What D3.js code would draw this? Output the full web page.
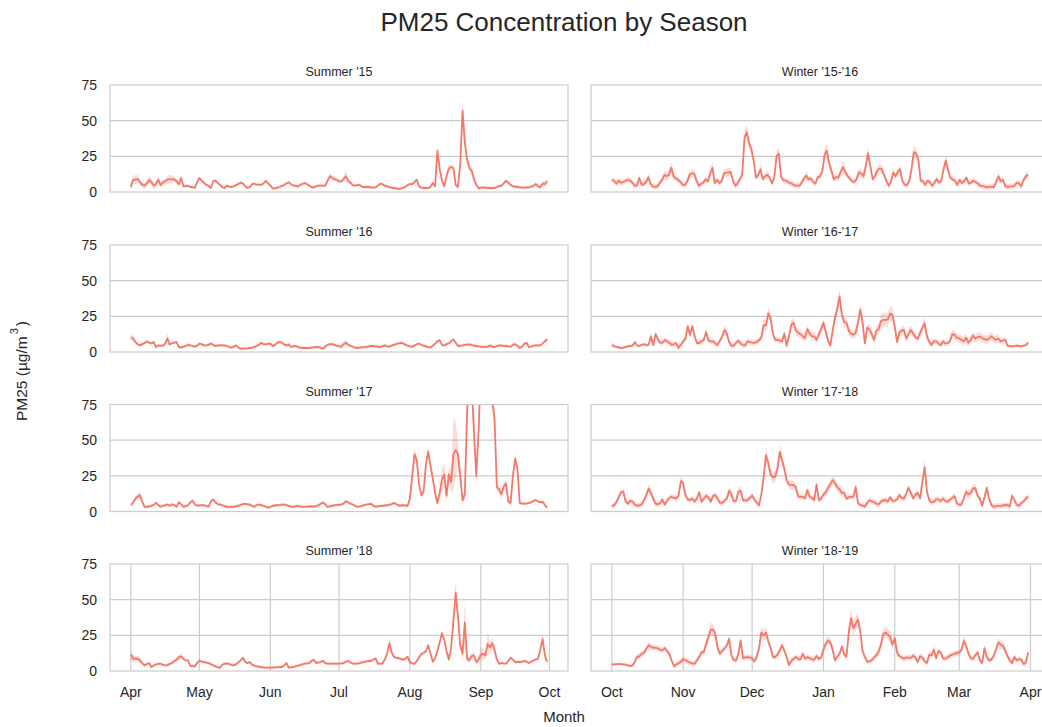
<!DOCTYPE html>
<html>
<head>
<meta charset="utf-8">
<script src="https://cdn.jsdelivr.net/npm/d3@7"></script>
<style>
body { margin: 0; background: #fff; }
text { font-family: "Liberation Sans", Arial, sans-serif; fill: #262626; }
</style>
</head>
<body>
<svg id="chart" width="1042" height="727"></svg>
<script>

// daily mean PM25, summer = Apr 1 .. Sep 30, winter = Oct 1 .. Mar 31
var summer15 = [3.5,8.6,8.6,9.1,7,5,4.5,6,8.5,7,
4.5,5.5,8.6,5,6.5,7.5,8.6,8.8,9,8.8,
7.5,5.5,9.8,4,4.2,4.4,3.5,3.5,2.8,7,
9.8,8,6.5,5,4.4,2.8,7.5,8,6.3,5,
3.5,2.8,4.4,3.8,3.5,4,4.8,5.6,6.5,6,
4,3,3.5,5.5,5.8,5.2,5.1,5.1,6,7.8,
6,4.4,2.6,2.5,3,3.5,4.2,4.9,6,6.8,
5.5,4.5,4.5,3.8,5,5.6,6.2,5.5,4.5,3.5,
3.2,4,4.4,4.4,4.4,4.4,8,11,10,9,
8.6,7.5,7.5,9,11,8,6.5,4.8,4.4,4.8,
5,3.8,3.5,3.5,3.5,3.3,3.1,3.2,4.5,5.8,
5.5,4.4,4,3.4,3,2.8,2.5,2.2,2.4,3,
3.5,4.8,5.5,5.6,7,8.6,4,3,2.8,2.8,
2.8,3.5,6.3,4,29,16,8,4,11,16.5,
17.5,17,5,3.5,20,57,35,22.7,16.8,15,
9,5,2.6,3,3.3,3,2.8,2.8,2.7,2.8,
3.5,4.2,4.4,6,7.9,6.5,5,4,3.8,3.5,
3.3,3,3,3.2,3.3,3.8,4.4,5.6,4,3.5,
5.8,5.5,7.5];

var summer16 = [10.4,9.5,7,5.5,4.6,5.5,6.2,7.4,6.5,6,
7,3.5,4.6,4.4,4.4,5.8,9.5,5.3,6.2,6.5,
7,3.5,3.2,3.8,4.2,5.1,4.6,4.2,3.8,4.5,
5.8,5.5,4.6,4.6,5,6,5,4.2,4.6,4.6,
4.6,4.6,4.2,3.5,3,3.8,4.6,3.2,2.3,2.3,
2.3,2.5,2.8,3,3.6,4.2,5,6.5,5.5,5.3,
5.8,5.8,4.2,5,6.5,7,6.5,5.3,4.6,5.3,
3.5,4,4.2,3.6,3,2.8,2.8,2.8,2.8,3,
3.2,3.4,3.5,3,2.3,3.8,5,5.5,5.5,5,
4.5,4,3.7,5.5,6.5,5.2,4.2,3.7,3,2.8,
3,3.3,3.4,3.6,4,4.2,4.2,4,3.8,3.5,
4,4.6,4,3.8,4.5,5,5.5,6,6.4,6,
5.2,4.4,4,3.8,4.5,5.5,5.8,5,4.4,4,
3.4,3.2,4.5,5.8,7.5,8.1,5,4.6,5.5,6,
7.5,8.8,6.5,4.2,4.4,4.6,5,5.2,5.3,5,
4.4,4.2,3.9,3.7,3.6,3.6,3.8,4.6,3.7,3.5,
4.2,4.6,4.5,4.3,4.2,3.9,3.7,5,5.5,4.4,
2.8,3.8,5.8,6.5,3.5,3.8,4.4,4.6,4.6,4.6,
6,7.5,8.8];

var summer17 = [4.4,6.3,9,10.5,11.4,7,3.3,3.3,3.5,4,
4.6,6.1,4.5,3.3,4,4.4,4.9,4,5,4.5,
3.3,6.5,5,3.3,3.8,4.4,6.5,7.5,4.9,4.2,
4.2,4.4,4.4,3.8,3.5,7,8.5,6.5,5.2,4.9,
4.4,3.8,3.3,3.3,3.3,3.3,3.8,4,4.6,5.2,
5.4,5,4.9,3.8,3.3,4.5,4.9,4.4,4,3.3,
2.6,3.2,4,4.2,4.4,4.5,4.8,4.9,4.4,4,
3.5,3.3,3.6,4,3.6,3.3,3.3,3.4,3.5,3.5,
3.4,3.8,4.4,5.4,6.3,5,3.3,3.6,4,4.4,
4.6,4.6,4.9,5.5,7.2,6.5,5.5,4.9,4,3.3,
3.6,4,4.4,4.8,5.2,5.4,4,3.4,3.6,3.9,
4,4.2,4.4,4.6,5.2,6,5.2,4.2,4.2,4.4,
4.2,4,9,25,40,36,19,11.4,14,33,
42,32,23,13,6,13,22,26,11,26,
20.8,40,43,40,25,8,12,70,95,90,
55,25,56,100,110,105,100,95,78,65,
17,15.5,12,17.5,19.6,7,6,25,37,30,
6,5.5,5.5,5.5,6,6.4,7.5,8,7,6.5,
6.8,4.5,2.6];

var summer18 = [11.6,8.6,8.6,8.6,7.4,5.5,4,4.8,5.6,2.8,
3.8,4.7,5,5.1,4.5,4,4,5,5.6,7,
7.9,9.5,10.2,8.5,7.4,7.4,3.5,3.4,3.3,5.5,
7.4,6.5,6.3,5.8,5.5,4.8,4,3.2,2.5,2.3,
4.5,5.1,5.3,4.8,4.3,4,4.6,6,7.5,9.3,
6.5,5.5,6.3,4.5,3.8,3.3,3,2.8,2.5,2.3,
2.3,2.3,2.3,2.5,2.6,2.7,2.8,3.7,5.6,2.4,
2.6,2.8,3.2,3.7,4.2,4.7,5.1,5.3,5.6,7,
7.9,5.6,5.8,6.5,7,5.5,5.1,5.1,5.1,5.1,
5.1,5.1,5.3,5.6,6.5,7,6,5.1,5.1,5.1,
5.5,6,6.3,6.8,7,7,8,8.8,5.1,5.1,
5.1,8,12,19.5,13,10,9.3,9,8.5,8,
8.5,10,6,5.3,5.1,7,9.5,12,12.6,14,
18,12.5,6.5,9,14,20,26.5,22,14,8,
16,35,55,38,18,12,34,8.6,7.5,10.5,
11,6.3,8,11.5,12,11,19,16.5,19.5,15,
8,5,5.6,5.3,5.1,7,9.3,8,6.3,6.3,
6.3,6.6,7,6.5,5.6,6.5,7.4,8,8.6,15,
22.5,10.9,6.3];

var winter1516 = [8.6,7.9,5.8,8,6.5,7,7.9,8.6,8,6.5,
4.4,4.6,9.8,5,5.5,7,10.3,5.5,4,3.5,
4,6.5,8.5,12,11,12.1,17,11,9.5,8.5,
7,5,5,7.5,12,13,13,8,4.4,5.6,
6.5,9,7.5,13,17,6.3,8.6,6.3,7.5,13,
13.5,13.8,14,7.5,4.4,6,9,12.5,38,42,
34,30,22,10,12,16,9,11,12,10,
6,10,25,27,10.5,8.3,8,7,6.2,5.5,
4.6,4.4,4.4,6.5,9.5,11.5,8.8,9.5,7,6,
10.3,11,14.5,26,29,20,15,9,10.5,10,
14,17.5,14,11.5,9.5,7.5,7,9,13.8,13,
11,18,27,18.5,9,11,15,16.5,16,12,
8,4.4,7,13.5,11,14,16,8,5,4.8,
7.5,16,28,27,22.7,8,7.5,5,8,7,
4.4,6.3,9.1,6.5,7.5,16,22,15,10,8.8,
8,5,8.5,6.3,7.5,10,6,6.5,8,7,
6,4.4,4.2,3.8,3.3,3.6,3.8,3.5,7,11,
7.5,8.6,4,3.6,3.8,4,4.4,6.5,6,4,
8.6,11,12];

var winter1617 = [5.1,4,3.5,3.2,2.8,3,3.5,4,4.2,4.4,
6.8,4.5,4.2,5,5.5,4.6,5.1,11,4.8,12.5,
9,6.5,6.5,8.3,7.5,6.5,5,5.5,6,3,
5,7.5,9.1,18,12,18,11,6.3,6.3,7.5,
8.6,14,8,7.5,7.5,6,5,8,11,15.5,
13,7,4.4,4.4,6.5,7.8,6,4.8,4.6,7.5,
7,6.6,6.4,7,8.3,10,19,18.5,27,24,
13,8.6,8.6,8,7.5,13,4.4,11,19,20.5,
15,13.5,12.5,11,9.8,16,13,11,11,8.6,
12.5,16,20.5,14,8,4.4,15,24,30,39,
26,21,20.5,15,13,12.1,13.3,20.3,29.7,21,
6,17,16,12.5,8.6,15,16,21.5,22.7,22.4,
23,27,26,18,7,13.5,15,15.5,9.5,12.5,
15.5,13,10.5,9.2,13.3,17,20,11,7,5,
7.5,7.5,6,4.8,7.5,5.8,6.3,7.5,12.5,12,
10,9.5,8.5,7.5,10,6.5,8.6,11.5,9.5,10.5,
10.8,9.8,9,8.5,9.5,11,9.5,8.6,9.5,7.5,
8,8.6,4.4,4.2,4,4.1,4.4,4.2,4,4.4,
4.8,6.5];

var winter1718 = [3.3,4.5,6.5,10,13.5,14,7,5.5,7.5,7,
4.8,4.2,4.2,5,8,11.5,16.1,13,9,5.5,
5,6,8.4,4.9,7.5,9.5,10.3,9.5,9.3,11,
21.3,20,11.4,8.5,8,9.1,7,9,13.5,6.8,
9.1,11,10,6.8,11,11.5,9,6,6,7.5,
9.1,14.5,12,7,7.5,14,14.5,8,7.8,7.9,
9.5,11.2,8.4,6.3,4.4,12,24,39.5,34,26,
24,24.5,30,41.8,36,30,22,19,18.5,18.5,
17,10.5,10.3,10.3,9.3,15,10.3,9.5,8,19,
8,9,12,13.5,16.5,19,22,20,17,15.5,
13,13,9,10,10.3,10.3,17,6,4.4,4.2,
3.5,6,7.9,7.2,6.6,5.5,4.9,7,7.9,7.9,
7.1,10,7.5,7.5,8.5,11.5,9.5,9,12.6,16.5,
13,9.1,12,13,9.1,21,31,13.8,8,6.5,
6.8,8.5,8.5,7.3,9.1,7.5,6.8,8.3,9.5,10.8,
5.5,4.9,4.9,9.1,13.8,12,13,16,16.5,11,
9,4,10,16.5,9.1,4.5,3.3,3.8,4,4,
4.2,4.6,4.5,3.5,11,8,4.8,4,6,7,
9.1,10.5];

var winter1819 = [4.7,4.7,4.8,5,4.8,4.6,4.4,4,3.5,3.8,
6.5,10,10.2,12,12.8,15.6,18,17,16.3,16.3,
15.8,15,14.5,16,14,12,7.5,3.3,4.5,5.5,
6.4,8.4,7.5,6.6,5.8,5.3,5,7.5,9.8,13.3,
13.3,19.1,24,29,29,26,16,12,14.4,15.5,
18,22.6,11,7.6,7.4,12,21.4,9,9.6,9.8,
9.5,8.8,6.8,10,16,27,25,27,21,16.5,
10,9.8,11.5,14.4,17.9,14.4,9.8,4.2,7,8.5,
9.8,8.5,8.2,12.1,8.6,9.8,9,8.1,7.8,10.5,
8.5,9.5,15,19,21.5,20,15,7.5,10,12.1,
17,11.5,10,27,37,30,33,36,28,14,
9.8,6.5,6.8,7.5,9.5,11,13.5,18.5,26,27,
25.5,24,18.5,23,13,10.5,9.5,8.6,9.5,9.4,
9.2,10.8,9.5,6.3,10.4,9.5,6.8,5.6,11.5,11,
15,9,14,13,8.8,8.6,9.5,10.8,11.5,12,
12.7,13,14.8,21,18,12.5,9,8.5,11,13,
7.5,5.5,16,10,7.4,8,10.5,15,20,18.6,
17.5,14.5,10.5,7.5,5.5,9.8,7.5,8.4,8,5,
6,13];

// half width of the confidence band, per day
var summer15Ci = [2,3,3,3,2,2,2,2,3,2, 2,2,3,2,2,2,3,3,3,2, 2,2,3,1,1,1,1,1,1,1,
1,1,1,1,1,1,1,1,1,1, 1,1,1,1,1,1,1,1,1,1, 1,1,1,1,1,1,1,1,1,1, 1,1,1,1,1,1,1,1,1,1, 1,1,1,1,1,1,1,1,1,1,
1,1,1,1,1,1,2,2,2,2, 1,1,1,2,4,2,1,1,1,1,
1,1,1,1,1,1,1,1,1,1, 1,1,1,1,1,1,1,1,1,1, 1,1,1,1,1,1,1,1,1,1,
1,1,1,1,3,3,1,1,2,2, 2,2,1,1,3,8,6,3,3,3,
2,1,1,1,1,1,1,1,1,1, 1,1,1,1,1,1,1,1,1,1, 1,1,1,1,1,1,1,1,1,2, 2,2,2];

var summer16Ci = [2,2,1,1,1,1,1,1,1,1, 1,1,1,1,1,1,4,1,1,1,
1,1,1,1,1,1,1,1,1,1, 1,1,1,1,1,1,1,1,1,1, 1,1,1,1,1,1,1,1,1,1, 1,1,1,1,1,1,1,1,1,1,
1,1,1,1,1,1,1,1,1,1, 1,1,1,1,1,1,1,1,1,1, 1,1,1,1,1,1,1,1,1,1,
1,1,1,2,2,1,1,1,1,1,
1,1,1,1,1,1,1,1,1,1, 1,1,1,1,1,1,1,1,1,1, 1,1,1,1,1,1,1,1,1,1, 1,1,1,1,1,1,1,1,1,1,
1,1,1,1,1,1,1,1,1,1, 1,1,1,1,1,1,1,1,1,1, 1,1,1,1,1,1,1,1,1,1, 1,1,1,1,1,1,1,1,1,1,
1,1,2];

var summer17Ci = [1,1,2,2,3,2,1,1,1,1,
1,1,1,1,1,1,1,1,1,1, 1,1,1,1,1,1,1,1,1,1, 1,1,1,1,1,1,1,1,1,1, 1,1,1,1,1,1,1,1,1,1,
1,1,1,1,1,1,1,1,1,1, 1,1,1,1,1,1,1,1,1,1, 1,1,1,1,1,1,1,1,1,1, 1,1,1,1,1,1,1,1,1,1,
1,1,1,1,1,1,1,1,1,1, 1,1,1,1,1,1,1,1,1,1, 1,1,1,1,1,1,1,1,1,1,
1,1,3,4,5,4,2,2,3,4, 3,3,3,2,2,4,8,8,4,6,
8,25,20,10,5,3,4,10,10,10, 10,8,10,10,10,10,10,10,8,6,
3,3,3,3,3,2,2,3,4,3, 1,1,1,1,1,1,1,1,1,1, 1,1,1];

var summer18Ci = [4,3,2,2,2,1,1,1,1,1, 1,1,1,1,1,1,1,1,1,1, 2,2,2,1,1,1,1,1,1,1,
1,1,1,1,1,1,1,1,1,1, 1,1,1,1,1,1,1,1,1,1, 1,1,1,1,1,1,1,1,1,1, 1,1,1,1,1,1,1,1,1,1,
1,1,1,1,1,1,1,1,1,1, 1,1,1,1,1,1,1,1,1,1, 1,1,1,1,1,1,1,1,1,1, 1,1,1,1,1,1,1,1,1,1,
1,1,1,2,1,1,1,1,1,1, 1,1,1,1,1,1,1,1,1,1, 2,1,1,1,1,1,2,1,1,1,
1,5,8,5,3,4,15,3,2,2, 2,2,2,5,4,3,8,4,4,3,
1,1,1,1,1,1,1,1,1,1, 1,1,1,1,1,1,1,1,1,2, 3,2,1];

var winter1516Ci = [2,2,2,2,2,2,2,2,2,2, 2,2,3,2,2,2,3,2,2,2, 2,2,2,3,3,3,4,3,2,2,
2,2,2,2,3,3,3,2,2,2, 2,2,2,3,4,2,2,2,2,3, 3,3,3,2,2,2,2,3,6,5,
4,3,3,2,2,3,2,2,3,2, 2,2,4,4,2,2,2,2,2,2, 2,2,2,2,2,3,2,2,2,2,
2,2,3,5,5,4,3,2,3,2, 3,5,3,2,2,2,2,2,3,3, 3,4,5,3,2,2,3,3,3,2,
2,2,2,3,2,3,3,2,2,2, 2,3,4,4,3,2,2,2,2,2, 2,2,2,2,2,3,4,3,2,2,
2,2,2,2,2,2,2,2,2,2, 2,2,2,2,2,2,2,2,2,3, 2,2,2,2,2,2,2,2,2,2, 2,3,3];

var winter1617Ci = [2,1,1,1,1,1,1,1,1,1, 2,1,1,1,1,1,1,3,1,3, 2,2,2,2,2,2,2,2,2,2,
2,2,2,3,3,3,2,2,2,2, 2,3,2,2,2,2,2,2,2,3, 3,2,2,2,2,2,2,2,2,2,
2,2,2,2,2,2,4,4,4,3, 3,2,2,2,2,3,2,3,4,3, 3,3,3,3,3,3,3,3,3,2,
3,3,3,3,2,2,3,4,5,5, 4,4,3,3,3,3,3,4,4,4, 2,3,3,3,3,3,4,5,5,5,
5,5,5,3,2,3,3,3,2,3, 3,3,2,2,3,3,4,3,2,2, 2,2,2,2,2,2,2,2,3,3,
3,3,3,3,3,3,3,3,3,3, 3,3,3,3,3,3,3,3,3,2, 2,2,1,1,1,1,1,1,1,1, 1,2];

var winter1718Ci = [1,2,2,2,2,2,2,2,2,2, 2,2,2,2,2,2,3,3,2,2, 2,2,2,2,2,2,2,2,2,2,
3,3,2,2,2,2,2,2,2,2, 2,2,2,2,2,2,2,2,2,2, 2,3,3,2,2,3,3,2,2,2,
2,2,2,2,2,2,4,6,4,4, 4,4,4,5,4,3,3,3,3,3, 3,2,2,2,2,3,2,2,2,3,
2,2,2,3,3,3,3,3,3,3, 3,3,2,2,2,2,3,2,2,2, 2,2,2,2,2,2,2,2,2,2,
2,2,2,2,2,2,2,2,2,2, 2,2,2,2,2,3,6,3,2,2, 2,2,2,2,2,2,2,2,2,2,
2,2,2,2,3,3,3,3,3,2, 2,2,2,3,2,2,2,2,2,2, 2,2,2,2,2,2,2,2,2,2, 2,2];

var winter1819Ci = [1,1,1,1,1,1,1,1,1,1, 2,2,2,2,2,2,3,2,2,2, 2,2,2,2,2,2,2,1,2,2,
2,2,2,2,2,2,2,2,2,2, 2,3,4,5,4,3,3,2,2,2, 2,3,2,2,2,2,3,2,2,2,
2,2,2,2,3,4,4,4,3,2, 2,2,2,2,3,2,2,1,2,2, 2,2,2,2,2,2,2,2,2,2,
2,2,3,3,3,3,3,2,2,2, 3,2,2,5,7,5,5,5,4,3, 2,2,2,2,2,2,3,3,4,4,
4,4,3,4,3,2,2,2,2,2, 2,2,2,2,2,2,2,2,2,2, 3,2,2,2,2,2,2,2,2,2,
2,2,2,4,3,2,2,2,2,2, 2,2,3,2,2,2,2,2,3,3, 3,3,2,2,2,2,2,2,2,2, 2,3];

var summerTitles = ["Summer '15", "Summer '16", "Summer '17", "Summer '18"];
var winterTitles = ["Winter '15-'16", "Winter '16-'17", "Winter '17-'18", "Winter '18-'19"];
var seasonYears = [2015, 2016, 2017, 2018];
var yTicks = [0, 25, 50, 75];

var summerSeries = [summer15, summer16, summer17, summer18];
var summerCis = [summer15Ci, summer16Ci, summer17Ci, summer18Ci];
var winterSeries = [winter1516, winter1617, winter1718, winter1819];
var winterCis = [winter1516Ci, winter1617Ci, winter1718Ci, winter1819Ci];

var panelW = 458, panelH = 107;
var colX = [110, 591];
var rowY = [85, 245, 404.5, 564];
var lineColor = "#f3796b";
var gridColor = "#cccccc";

var svg = d3.select("#chart");

function drawPanel(col, row, values, ci, start, title)
{
	var g = svg.append("g")
		.attr("transform", "translate(" + colX[col] + "," + rowY[row] + ")");

	var days = values.map(function(v, i) {
		return d3.timeDay.offset(start, i);
	});

	var pad = panelW * 0.05 / 1.1;
	var x = d3.scaleTime()
		.domain([days[0], days[days.length - 1]])
		.range([pad, panelW - pad]);

	var y = d3.scaleLinear()
		.domain([0, 75])
		.range([panelH, 0]);

	var clipId = "clip" + col + row;
	g.append("clipPath")
		.attr("id", clipId)
		.append("rect")
		.attr("width", panelW)
		.attr("height", panelH);

	// horizontal grid
	g.selectAll(".hgrid")
		.data([25, 50])
		.enter()
		.append("line")
		.attr("x1", 0)
		.attr("x2", panelW)
		.attr("y1", function(d) { return y(d); })
		.attr("y2", function(d) { return y(d); })
		.attr("stroke", gridColor)
		.attr("stroke-width", 1.2);

	var months = d3.timeMonth.range(start, d3.timeMonth.offset(start, 7));

	if (row == 3) {
		g.selectAll(".vgrid")
			.data(months)
			.enter()
			.append("line")
			.attr("x1", function(d) { return x(d); })
			.attr("x2", function(d) { return x(d); })
			.attr("y1", 0)
			.attr("y2", panelH)
			.attr("stroke", gridColor)
			.attr("stroke-width", 1.2);

		g.selectAll(".xlab")
			.data(months)
			.enter()
			.append("text")
			.attr("x", function(d) { return x(d); })
			.attr("y", panelH + 26)
			.attr("text-anchor", "middle")
			.style("font-size", "14px")
			.text(d3.timeFormat("%b"));
	}

	if (col == 0) {
		g.selectAll(".ylab")
			.data(yTicks)
			.enter()
			.append("text")
			.attr("x", -13)
			.attr("y", function(d) { return y(d) + 5; })
			.attr("text-anchor", "end")
			.style("font-size", "14px")
			.text(function(d) { return d; });
	}

	var band = d3.area()
		.x(function(d, i) { return x(days[i]); })
		.y0(function(d, i) { return y(Math.max(0, d - ci[i])); })
		.y1(function(d, i) { return y(d + ci[i]); });

	var line = d3.line()
		.x(function(d, i) { return x(days[i]); })
		.y(function(d) { return y(d); });

	var plot = g.append("g").attr("clip-path", "url(#" + clipId + ")");

	plot.append("path")
		.datum(values)
		.attr("d", band)
		.attr("fill", lineColor)
		.attr("fill-opacity", 0.25);

	plot.append("path")
		.datum(values)
		.attr("d", line)
		.attr("fill", "none")
		.attr("stroke", lineColor)
		.attr("stroke-width", 1.8)
		.attr("stroke-linejoin", "round");

	// frame
	g.append("rect")
		.attr("width", panelW)
		.attr("height", panelH)
		.attr("fill", "none")
		.attr("stroke", gridColor)
		.attr("stroke-width", 1.2);

	g.append("text")
		.attr("x", panelW / 2)
		.attr("y", -9)
		.attr("text-anchor", "middle")
		.style("font-size", "12.5px")
		.text(title);
}

for (var r = 0; r < 4; r++) {
	drawPanel(0, r, summerSeries[r], summerCis[r], new Date(seasonYears[r], 3, 1), summerTitles[r]);
	drawPanel(1, r, winterSeries[r], winterCis[r], new Date(seasonYears[r], 9, 1), winterTitles[r]);
}

svg.append("text")
	.attr("x", 564)
	.attr("y", 31)
	.attr("text-anchor", "middle")
	.style("font-size", "26px")
	.text("PM25 Concentration by Season");

svg.append("text")
	.attr("x", 564)
	.attr("y", 722)
	.attr("text-anchor", "middle")
	.style("font-size", "15px")
	.text("Month");

var yLabel = svg.append("text")
	.attr("transform", "translate(27,371) rotate(-90)")
	.attr("text-anchor", "middle")
	.style("font-size", "15.5px");
yLabel.append("tspan").text("PM25 (µg/m");
yLabel.append("tspan").attr("dy", -9).attr("dx", 2).style("font-size", "11px").text("3");
yLabel.append("tspan").attr("dy", 9).attr("dx", 2).text(")");

</script>
</body>
</html>
